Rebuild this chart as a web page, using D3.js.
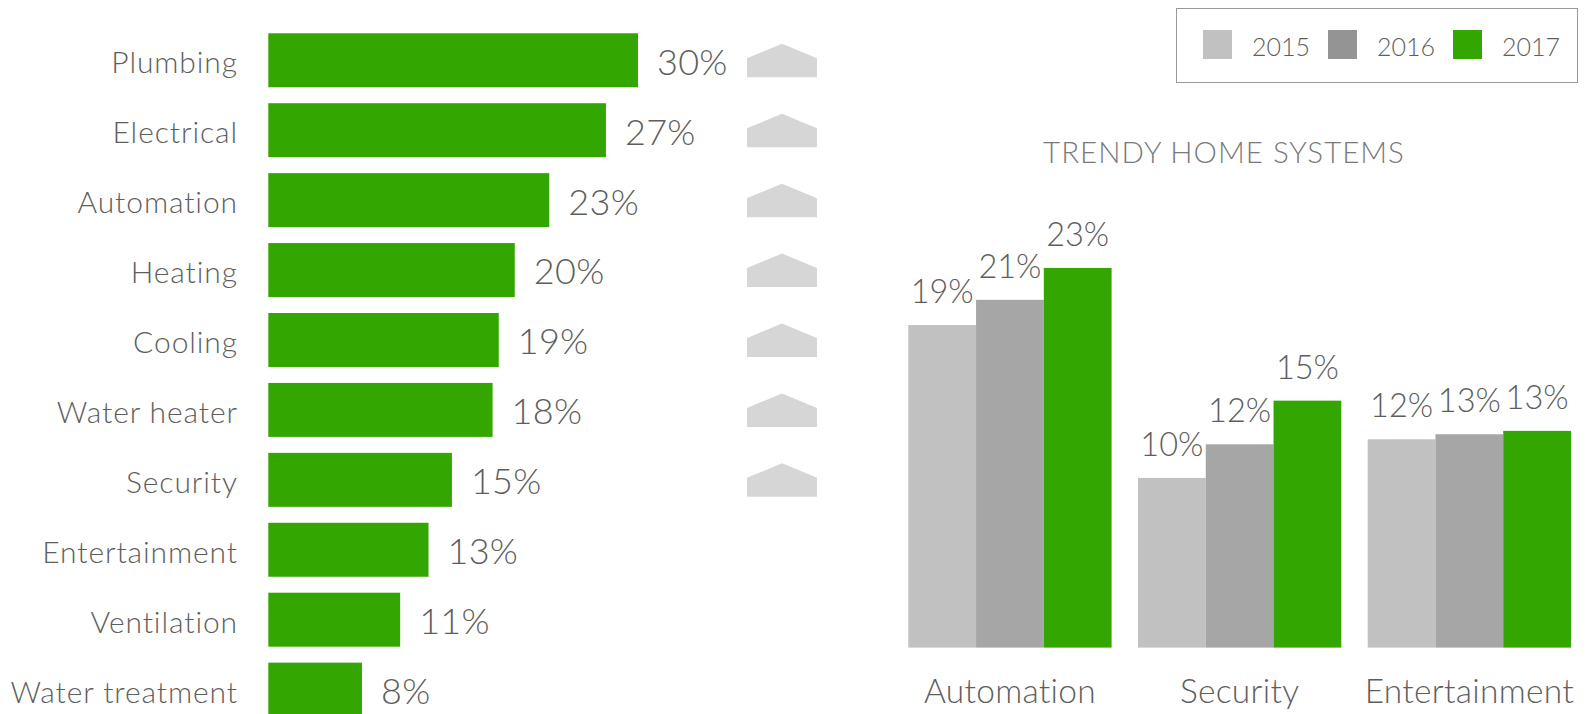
<!DOCTYPE html>
<meta charset="utf-8">
<style>
body {
  margin: 0;
  background-color: white;
}
text {
  font-family: Lato, "Open Sans", sans-serif;
  font-weight: 300;
  fill: #5e5e5e;
}
.cat-label { font-size: 30px; letter-spacing: 0.9px; }
.val-label { font-size: 36px; letter-spacing: 0.3px; }
.bar-val { font-size: 32.5px; }
.title { font-size: 29.5px; letter-spacing: 1px; fill: #7a7a7a; }
.legend text { font-size: 25px; }
.group-label { font-size: 33.5px; letter-spacing: 0.3px; }
</style>
<svg width="1594" height="714"></svg>
<script src="https://d3js.org/d3.v7.min.js"></script>
<script>
// left chart: share of homeowners by system
var systems = ["Plumbing", "Electrical", "Automation", "Heating", "Cooling", "Water heater",
               "Security", "Entertainment", "Ventilation", "Water treatment"];
var systemShare = [0.300, 0.274, 0.228, 0.200, 0.187, 0.182, 0.149, 0.130, 0.107, 0.076];
// systems marked with a rising arrow
var rising = ["Plumbing", "Electrical", "Automation", "Heating", "Cooling", "Water heater", "Security"];

// right chart: trendy home systems by year
var trendCats = ["Automation", "Security", "Entertainment"];
var years = ["2015", "2016", "2017"];
var share2015 = [0.192, 0.101, 0.124];
var share2016 = [0.207, 0.121, 0.127];
var share2017 = [0.226, 0.147, 0.129];
var yearColors = ["#c1c1c1", "#a6a6a6", "#33a602"];
var legendColors = ["#c1c1c1", "#949494", "#33a602"];

var fmt = d3.format(".0%");
var svg = d3.select("svg");

// ---- left horizontal bars
var x = d3.scaleLinear().domain([0, 0.30]).range([268.3, 638]);
var y = d3.scaleBand().domain(systems).range([25.3, 724.6])
    .paddingInner(0.228).paddingOuter(0.114);

var rows = systems.map(function(s, i) { return {name: s, value: systemShare[i]}; });

var left = svg.append("g");

left.selectAll(".bar")
    .data(rows)
  .enter().append("rect")
    .attr("class", "bar")
    .attr("x", x(0))
    .attr("y", function(d) { return y(d.name); })
    .attr("height", y.bandwidth())
    .attr("width", function(d) { return x(d.value) - x(0); })
    .attr("fill", "#33a602");

left.selectAll(".cat-label")
    .data(rows)
  .enter().append("text")
    .attr("class", "cat-label")
    .attr("x", 238)
    .attr("y", function(d) { return y(d.name) + y.bandwidth() / 2; })
    .attr("dy", "0.43em")
    .attr("text-anchor", "end")
    .text(function(d) { return d.name; });

left.selectAll(".val-label")
    .data(rows)
  .enter().append("text")
    .attr("class", "val-label")
    .attr("x", function(d) { return x(d.value) + 19; })
    .attr("y", function(d) { return y(d.name) + y.bandwidth() / 2; })
    .attr("dy", "0.4em")
    .text(function(d) { return fmt(d.value); });

// arrows
left.selectAll(".arrow")
    .data(rising)
  .enter().append("path")
    .attr("class", "arrow")
    .attr("fill", "#d6d6d6")
    .attr("transform", function(d) {
        return "translate(782," + (y(d) + y.bandwidth() / 2 - 16.5) + ")";
    })
    .attr("d", "M-35,14.5L0,0L35,14.5L35,33.5L-35,33.5Z");

// ---- right grouped bars
var base = 647.6;
var x0 = d3.scaleBand().domain(trendCats).range([908.3, 1571]).paddingInner(0.115);
var x1 = d3.scaleBand().domain(years).range([0, x0.bandwidth()]);
var yR = d3.scaleLinear().domain([0, 0.2]).range([base, base - 336]);
var color = d3.scaleOrdinal().domain(years).range(yearColors);

var series = [share2015, share2016, share2017];
var groups = trendCats.map(function(c, i) {
    return {cat: c, vals: years.map(function(yr, j) { return {year: yr, value: series[j][i]}; })};
});

var right = svg.append("g");

var grp = right.selectAll(".grp")
    .data(groups)
  .enter().append("g")
    .attr("class", "grp")
    .attr("transform", function(d) { return "translate(" + x0(d.cat) + ",0)"; });

grp.selectAll("rect")
    .data(function(d) { return d.vals; })
  .enter().append("rect")
    .attr("x", function(d) { return x1(d.year); })
    .attr("width", x1.bandwidth())
    .attr("y", function(d) { return yR(d.value); })
    .attr("height", function(d) { return base - yR(d.value); })
    .attr("fill", function(d) { return color(d.year); });

grp.selectAll(".bar-val")
    .data(function(d) { return d.vals; })
  .enter().append("text")
    .attr("class", "bar-val")
    .attr("x", function(d) { return x1(d.year) + x1.bandwidth() / 2; })
    .attr("y", function(d) { return yR(d.value) - 22; })
    .attr("text-anchor", "middle")
    .text(function(d) { return fmt(d.value); });

grp.append("text")
    .attr("class", "group-label")
    .attr("x", x0.bandwidth() / 2)
    .attr("y", 703)
    .attr("text-anchor", "middle")
    .text(function(d) { return d.cat; });

right.append("text")
    .attr("class", "title")
    .attr("x", 1224)
    .attr("y", 162.7)
    .attr("text-anchor", "middle")
    .text("TRENDY HOME SYSTEMS");

// legend
var legend = svg.append("g").attr("class", "legend");
legend.append("rect")
    .attr("x", 1176.5).attr("y", 8.5)
    .attr("width", 401).attr("height", 74)
    .attr("fill", "none")
    .attr("stroke", "#999")
    .attr("stroke-width", 1);

var legX = d3.scalePoint().domain(years).range([1203, 1453]);
var item = legend.selectAll(".item")
    .data(years)
  .enter().append("g")
    .attr("class", "item")
    .attr("transform", function(d) { return "translate(" + legX(d) + ",30)"; });
item.append("rect")
    .attr("width", 29).attr("height", 29)
    .attr("fill", function(d, i) { return legendColors[i]; });
item.append("text")
    .attr("x", 49)
    .attr("y", 26)
    .text(function(d) { return d; });
</script>
